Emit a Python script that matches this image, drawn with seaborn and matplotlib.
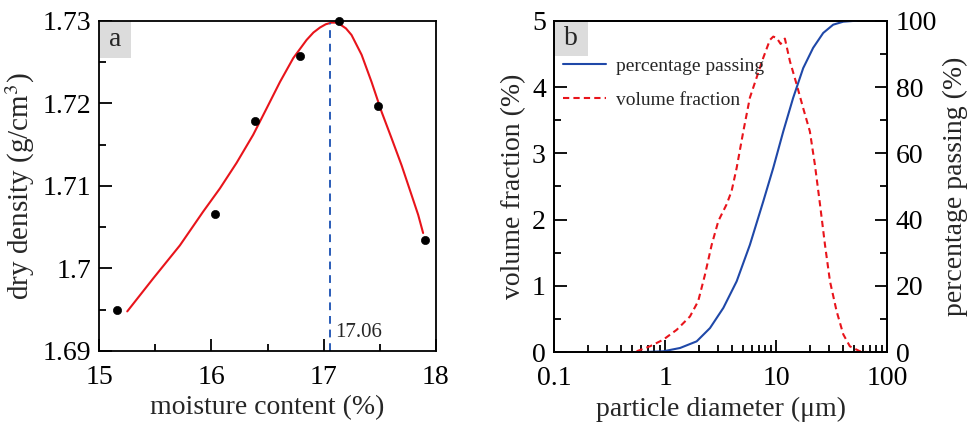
import numpy as np
import pandas as pd
import matplotlib
matplotlib.use("Agg")
import matplotlib.pyplot as plt
from matplotlib.patches import Rectangle
from matplotlib.ticker import MultipleLocator, LogLocator, FuncFormatter, NullFormatter
import seaborn as sns

# panel a: compaction test
moisture = [15.16, 16.03, 16.39, 16.79, 17.14, 17.49, 17.91]
density = [1.6950, 1.7066, 1.7179, 1.7258, 1.7300, 1.7197, 1.7035]

# fitted curve
fit_moisture = [15.248, 15.48, 15.718, 15.926, 16.075, 16.224, 16.372, 16.492, 16.611,
                16.73, 16.849, 16.91, 16.968, 17.02, 17.072, 17.11, 17.146, 17.2, 17.25,
                17.34, 17.429, 17.518, 17.607, 17.697, 17.786, 17.845, 17.889]
fit_density = [1.6948, 1.6988, 1.7028, 1.7069, 1.7097, 1.7128, 1.7162, 1.7194, 1.7226,
               1.7255, 1.7277, 1.7286, 1.7292, 1.7296, 1.7298, 1.7298, 1.7296, 1.7291,
               1.7283, 1.7259, 1.7226, 1.7190, 1.7158, 1.7125, 1.7089, 1.7065, 1.7043]
opt_moisture = 17.06
max_density = 1.7297

# panel b: particle size distribution
diam_vf = [0.552, 0.728, 0.96, 1.27, 1.67, 1.98, 2.28, 2.62, 3.01, 3.57, 3.96, 4.40,
           5.05, 5.79, 6.65, 7.64, 8.77, 9.40, 10.09, 10.96, 11.97, 13.28, 15.27, 17.5,
           20.1, 22.3, 24.8, 27.5, 30.5, 35.0, 40.2, 46.1, 56.8, 70.0]
vol_frac = [0.015, 0.09, 0.19, 0.34, 0.54, 0.77, 1.17, 1.62, 1.98, 2.23, 2.43, 2.78,
            3.33, 3.84, 4.14, 4.44, 4.71, 4.76, 4.74, 4.65, 4.73, 4.39, 4.04, 3.68,
            3.33, 2.83, 2.23, 1.62, 1.07, 0.62, 0.27, 0.09, 0.015, 0.0]

diam_pp = [0.552, 0.96, 1.36, 1.92, 2.53, 3.34, 4.40, 5.79, 7.64, 9.40, 11.57, 14.2,
           17.5, 21.5, 26.5, 32.6, 40.2, 53.0]
passing = [0.0, 0.3, 1.3, 3.3, 7.3, 13.4, 21.4, 32.4, 45.5, 55.6, 66.6, 76.7,
           85.7, 91.8, 96.3, 98.8, 99.7, 100.0]

sns.set_theme(style="ticks")
plt.rcParams["font.family"] = ["Liberation Serif", "DejaVu Serif"]
plt.rcParams["mathtext.fontset"] = "stix"

fs_tick = 20
fs_label = 20

fig = plt.figure(figsize=(9.77, 4.32), dpi=100)
ax1 = fig.add_axes([0.1018, 0.1875, 0.344, 0.764])
ax2 = fig.add_axes([0.5673, 0.1845, 0.3408, 0.7676])

# ---- panel a ----
sns.lineplot(x=fit_moisture, y=fit_density, ax=ax1, color="#e8141b", lw=1.5, sort=False)
sns.scatterplot(x=moisture, y=density, ax=ax1, color="black", s=35, edgecolor="black",
                zorder=5, clip_on=False)
ax1.plot([opt_moisture, opt_moisture], [1.69, max_density], color="#2a5cb8", lw=1.4,
         ls=(0, (4, 3)))
ax1.text(opt_moisture + 0.04, 1.6923, "17.06", fontsize=15, ha="left", va="center")
ax1.set_xlim(15, 18)
ax1.set_ylim(1.69, 1.73)
ax1.xaxis.set_major_locator(MultipleLocator(1))
ax1.xaxis.set_minor_locator(MultipleLocator(0.5))
ax1.yaxis.set_major_locator(MultipleLocator(0.01))
ax1.yaxis.set_minor_locator(MultipleLocator(0.005))
ax1.yaxis.set_major_formatter(FuncFormatter(lambda v, p: f"{v:.3f}".rstrip("0")))
ax1.set_xlabel("moisture content (%)", fontsize=fs_label)
ax1.set_ylabel("dry density (g/cm$^3$)", fontsize=fs_label + 1)
ax1.add_patch(Rectangle((0, 0.888), 0.093, 0.112, transform=ax1.transAxes,
                        fc="#dcdcdc", ec="none", zorder=1))
ax1.text(0.0465, 0.944, "a", transform=ax1.transAxes, fontsize=fs_tick, ha="center",
         va="center", zorder=2)

# ---- panel b ----
ax3 = ax2.twinx()
ax3.set_position(ax2.get_position())
sns.lineplot(x=diam_vf, y=vol_frac, ax=ax2, color="#e8141b", lw=1.5, ls=(0, (3, 2)),
             sort=False)
sns.lineplot(x=diam_pp, y=passing, ax=ax3, color="#1f48a8", lw=1.5, sort=False)
ax2.set_xscale("log")
ax2.set_xlim(0.1, 100)
ax2.set_ylim(0, 5)
ax3.set_ylim(0, 100)
ax2.xaxis.set_major_locator(LogLocator(base=10))
ax2.xaxis.set_minor_locator(LogLocator(base=10, subs=np.arange(2, 10)))
ax2.xaxis.set_minor_formatter(NullFormatter())
ax2.xaxis.set_major_formatter(FuncFormatter(lambda v, p: f"{v:g}"))
ax2.yaxis.set_major_locator(MultipleLocator(1))
ax2.yaxis.set_minor_locator(MultipleLocator(0.5))
ax3.yaxis.set_major_locator(MultipleLocator(20))
ax3.yaxis.set_minor_locator(MultipleLocator(10))
ax2.set_xlabel("particle diameter (μm)", fontsize=fs_label)
ax2.set_ylabel("volume fraction (%)", fontsize=fs_label)
ax3.set_ylabel("percentage passing (%)", fontsize=fs_label)
ax2.add_patch(Rectangle((0, 0.894), 0.102, 0.106, transform=ax2.transAxes,
                        fc="#dcdcdc", ec="none", zorder=1))
ax2.text(0.051, 0.947, "b", transform=ax2.transAxes, fontsize=fs_tick, ha="center",
         va="center", zorder=2)

h_vf = ax2.get_lines()[0]
h_pp = ax3.get_lines()[0]
if ax2.get_legend():
    ax2.get_legend().remove()
if ax3.get_legend():
    ax3.get_legend().remove()
ax3.legend([h_pp, h_vf], ["percentage passing", "volume fraction"], loc="upper left",
           bbox_to_anchor=(-0.008, 0.925), frameon=False, fontsize=14, handlelength=2.2,
           handletextpad=0.5, labelspacing=0.85, borderaxespad=0.2)

for ax in (ax1, ax2, ax3):
    for s in ax.spines.values():
        s.set_linewidth(1.3)
        s.set_color("black")
        s.set_visible(True)
    ax.tick_params(which="both", direction="in", labelsize=fs_tick, width=1.3,
                   colors="black", pad=6)
    ax.tick_params(which="major", length=9)
    ax.tick_params(which="minor", length=5)
for ax in (ax1, ax2):
    ax.tick_params(top=False, right=False, which="both")
    ax.tick_params(axis="x", which="both", pad=10)
ax3.tick_params(left=False, right=True, which="both")

fig.savefig("out.png", dpi=100)
